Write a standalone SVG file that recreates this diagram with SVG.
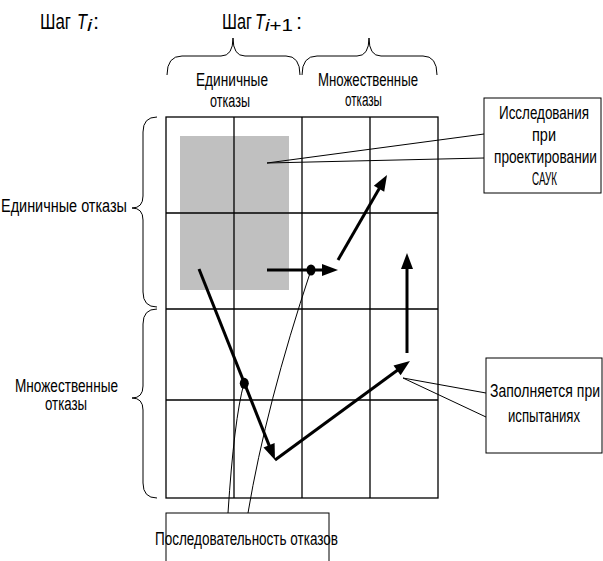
<svg xmlns="http://www.w3.org/2000/svg" width="603" height="561" viewBox="0 0 603 561">
<style>
text{font-family:"Liberation Sans Narrow","Arial Narrow","Liberation Sans",Arial,sans-serif;fill:#000}
.lbl{font-size:18px}
.box{font-size:17.5px}
.hd{font-size:22px}
.it{font-style:italic}
.grid{stroke:#000;stroke-width:1.3;fill:none}
.brace{stroke:#000;stroke-width:1;fill:none}
.thin{stroke:#000;stroke-width:1;fill:none}
.arr{stroke:#000;stroke-width:3;fill:none;marker-end:url(#ah)}
.cb{fill:#fff;stroke:#000;stroke-width:1}
</style>
<defs>
<marker id="ah" markerUnits="userSpaceOnUse" markerWidth="16" markerHeight="12" refX="8" refY="6" orient="auto" overflow="visible">
<path d="M0,0 L16,6 L0,12 z" fill="#000"/>
</marker>
</defs>
<rect width="603" height="561" fill="#fff"/>

<g id="heading-ti">
<text class="hd" x="40" y="29" textLength="31" lengthAdjust="spacingAndGlyphs">Шаг</text>
<text class="hd it" x="77" y="29" textLength="10" lengthAdjust="spacingAndGlyphs">T</text>
<text class="it" x="87" y="31" font-size="16" textLength="5" lengthAdjust="spacingAndGlyphs">i</text>
<text class="hd" x="93" y="29">:</text>
</g>
<g id="heading-ti1">
<text class="hd" x="222" y="29" textLength="30" lengthAdjust="spacingAndGlyphs">Шаг</text>
<text class="hd it" x="255" y="29" textLength="10" lengthAdjust="spacingAndGlyphs">T</text>
<text x="265" y="31" font-size="17" textLength="28" lengthAdjust="spacingAndGlyphs"><tspan class="it">i</tspan>+1</text>
<text class="hd" x="296" y="29">:</text>
</g>

<g id="braces">
<path class="brace" d="M167,75 Q167,56 182,56 L221,56 Q233,56 233,38 Q233,56 245,56 L286,56 Q300,56 300,75"/>
<path class="brace" d="M302,75 Q302,56 317,56 L357,56 Q369,56 369,38 Q369,56 381,56 L423,56 Q437,56 437,75"/>
<path class="brace" d="M157,117 Q143,117 143,132 L143,196 Q143,208 132,208 Q143,208 143,220 L143,292 Q143,307 157,307"/>
<path class="brace" d="M157,309 Q143,309 143,324 L143,386 Q143,398 132,398 Q143,398 143,410 L143,483 Q143,498 157,498"/>
</g>

<g id="axis-labels">
<text class="lbl" x="196" y="86" textLength="72" lengthAdjust="spacingAndGlyphs">Единичные</text>
<text class="lbl" x="210" y="107" textLength="40" lengthAdjust="spacingAndGlyphs">отказы</text>
<text class="lbl" x="318" y="86" textLength="100" lengthAdjust="spacingAndGlyphs">Множественные</text>
<text class="lbl" x="345" y="106" textLength="37" lengthAdjust="spacingAndGlyphs">отказы</text>
<text class="lbl" x="1" y="212" textLength="126" lengthAdjust="spacingAndGlyphs">Единичные отказы</text>
<text class="lbl" x="15" y="392" textLength="103" lengthAdjust="spacingAndGlyphs">Множественные</text>
<text class="lbl" x="45" y="410" textLength="42" lengthAdjust="spacingAndGlyphs">отказы</text>
</g>

<g id="matrix">
<rect x="180" y="136" width="109" height="154" fill="#c0c0c0"/>
<rect class="grid" x="166" y="117" width="272" height="381"/>
<path class="grid" d="M234,117 V498 M302,117 V498 M370,117 V498 M166,213 H438 M166,309 H438 M166,400 H438"/>
</g>

<g id="note-design">
<rect class="cb" x="484" y="98" width="117" height="95"/>
<text class="box" x="499" y="119" textLength="90" lengthAdjust="spacingAndGlyphs">Исследования</text>
<text class="box" x="532" y="141" textLength="24" lengthAdjust="spacingAndGlyphs">при</text>
<text class="box" x="494" y="163" textLength="103" lengthAdjust="spacingAndGlyphs">проектировании</text>
<text class="box" x="532" y="185" textLength="25" lengthAdjust="spacingAndGlyphs">САУК</text>
</g>

<g id="note-tests">
<rect class="cb" x="486" y="358" width="116" height="95"/>
<text class="box" x="490" y="397" textLength="110" lengthAdjust="spacingAndGlyphs">Заполняется при</text>
<text class="box" x="508" y="422" textLength="72" lengthAdjust="spacingAndGlyphs">испытаниях</text>
</g>

<g id="note-sequence">
<rect class="cb" x="166" y="513" width="163" height="60"/>
<text class="box" x="155" y="545" textLength="183" lengthAdjust="spacingAndGlyphs">Последовательность отказов</text>
</g>

<g id="connectors">
<path class="thin" d="M267,163 L484,134 M267,163 L484,158"/>
<path class="thin" d="M403,378 L486,393 M403,378 L486,417"/>
<path class="thin" d="M228,513 Q234,420 244,383"/>
<path class="thin" d="M248,513 Q266,405 311,270"/>
<path class="arr" d="M199,269 L272,452.6"/>
<path class="arr" d="M275,460 L403.5,365.7"/>
<path class="arr" d="M407,353 L407,261"/>
<path class="arr" d="M267,270 L330,270"/>
<path class="arr" d="M338,260 L383,181.9"/>
<ellipse cx="244.3" cy="383.3" rx="4.5" ry="5.5" fill="#000"/>
<ellipse cx="311" cy="270" rx="4.5" ry="5.5" fill="#000"/>
</g>
</svg>
